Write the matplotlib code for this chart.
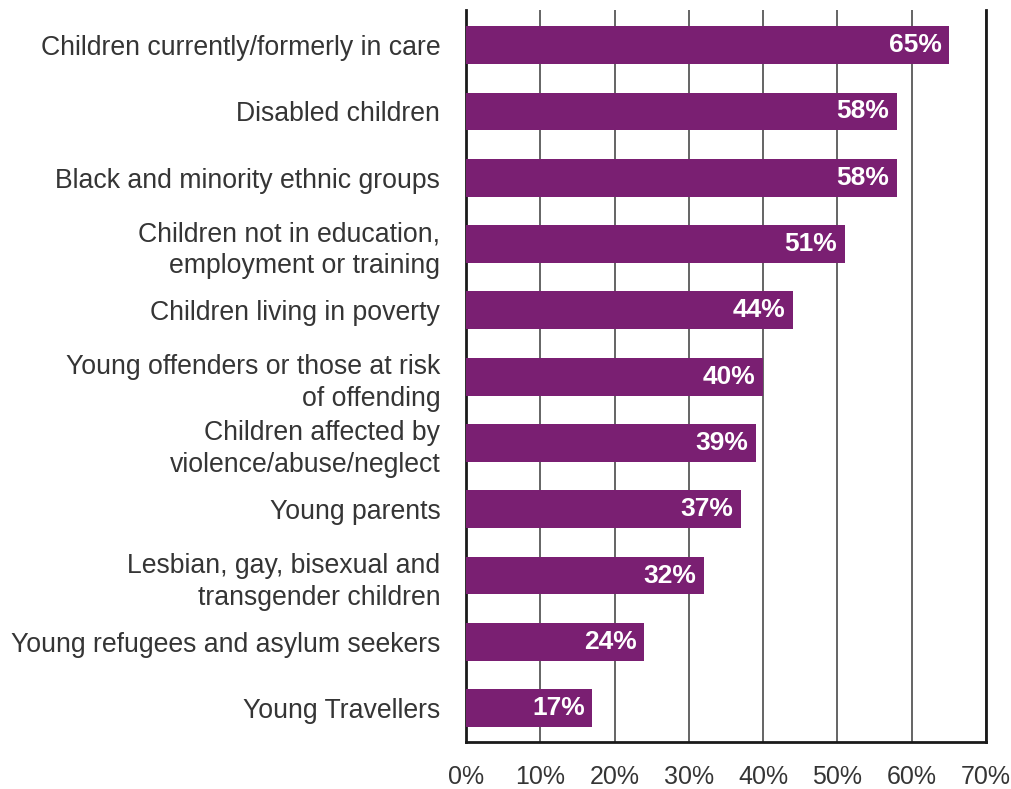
import matplotlib
matplotlib.use('Agg')
import matplotlib.pyplot as plt
import numpy as np

# Groups and share of respondents, top to bottom
groups = [
    'Children currently/formerly in care',
    'Disabled children',
    'Black and minority ethnic groups',
    'Children not in education,\nemployment or training',
    'Children living in poverty',
    'Young offenders or those at risk\nof offending',
    'Children affected by\nviolence/abuse/neglect',
    'Young parents',
    'Lesbian, gay, bisexual and\ntransgender children',
    'Young refugees and asylum seekers',
    'Young Travellers',
]
values = [65, 58, 58, 51, 44, 40, 39, 37, 32, 24, 17]
xticks = [0, 10, 20, 30, 40, 50, 60, 70]

plt.rcParams['font.family'] = ['Liberation Sans', 'DejaVu Sans']

fig = plt.figure(figsize=(10.12, 7.89), dpi=100)
ax = fig.add_axes([0.4605, 0.0596, 0.5138, 0.9277])

pos = np.arange(len(groups))
ax.barh(pos, values, height=0.57, color='#7a1f72', zorder=3)

# Value labels inside the bar ends
for p, v in zip(pos, values):
    ax.text(v - 1.0, p, '%d%%' % v, ha='right', va='center',
            color='white', fontsize=19, fontweight='bold', zorder=4)

ax.set_xlim(0, 70)
ax.set_ylim(10.51, -0.53)
ax.set_yticks(pos)
ax.set_yticklabels(groups, fontsize=19.2, color='#353535', linespacing=1.32)
ax.set_xticks(xticks)
ax.set_xticklabels(['%d%%' % t for t in xticks], fontsize=18, color='#353535')
ax.tick_params(axis='both', length=0)
ax.tick_params(axis='x', pad=16.5)
ax.tick_params(axis='y', pad=18.5)

ax.grid(axis='x', color='#3a3a3a', linewidth=1.1, zorder=1)
ax.spines['top'].set_visible(False)
for s in ['left', 'bottom', 'right']:
    ax.spines[s].set_linewidth(2)
    ax.spines[s].set_color('#1a1a1a')

fig.savefig('out.png')
